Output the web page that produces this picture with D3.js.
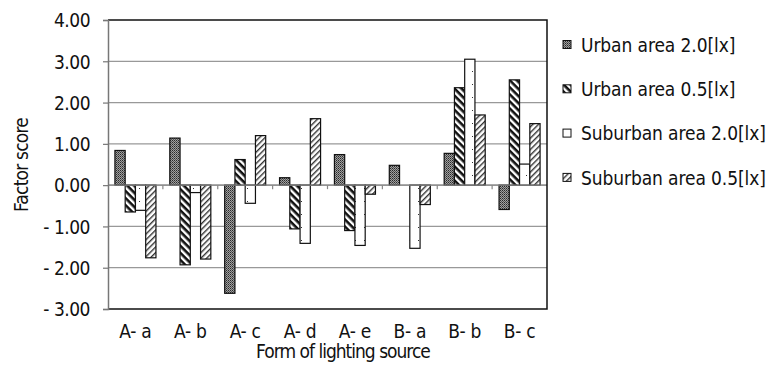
<!DOCTYPE html>
<html><head><meta charset="utf-8">
<script src="https://cdn.jsdelivr.net/npm/d3@7"></script>
<style>
html,body{margin:0;padding:0;background:#fff;}
svg text{font-family:"DejaVu Sans Condensed","Liberation Sans Narrow","DejaVu Sans",sans-serif;font-stretch:condensed;fill:#111;}
</style></head>
<body><svg id="c" width="768" height="381"></svg>
<script>
const categories = ["A- a","A- b","A- c","A- d","A- e","B- a","B- b","B- c"];
const seriesNames = ["Urban area 2.0[lx]","Urban area 0.5[lx]","Suburban area 2.0[lx]","Suburban area 0.5[lx]"];
const urban20 = [0.84, 1.14, -2.62, 0.18, 0.74, 0.48, 0.77, -0.59];
const urban05 = [-0.65, -1.93, 0.62, -1.06, -1.10, 0.00, 2.36, 2.55];
const suburban20 = [-0.61, -0.18, -0.44, -1.41, -1.46, -1.53, 3.05, 0.51];
const suburban05 = [-1.76, -1.79, 1.20, 1.61, -0.22, -0.47, 1.70, 1.49];
const yTicks = [-3,-2,-1,0,1,2,3,4];
const yTickLabels = ["- 3.00","- 2.00","- 1.00","0.00","1.00","2.00","3.00","4.00"];
const xTitle = "Form of lighting source";
const yTitle = "Factor score";

const series = [urban20, urban05, suburban20, suburban05];
const svg = d3.select("#c");
const L = 108, R = 547, T = 20, B = 309;
const FS = 19;

const defs = svg.append("defs");
// pattern 0: dark checker
const p0 = defs.append("pattern").attr("id","p0").attr("width",2).attr("height",2).attr("patternUnits","userSpaceOnUse");
p0.append("rect").attr("width",2).attr("height",2).attr("fill","#a0a0a0");
p0.append("rect").attr("width",1).attr("height",1).attr("fill","#2a2a2a");
p0.append("rect").attr("x",1).attr("y",1).attr("width",1).attr("height",1).attr("fill","#555");
// pattern 1: thick backslash stripes
const p1 = defs.append("pattern").attr("id","p1").attr("width",5).attr("height",5).attr("patternUnits","userSpaceOnUse").attr("patternTransform","rotate(45)");
p1.append("rect").attr("width",5).attr("height",5).attr("fill","#fff");
p1.append("rect").attr("width",5).attr("height",2.6).attr("fill","#111");
// pattern 2: white with sparse dots
const p2 = defs.append("pattern").attr("id","p2").attr("width",9).attr("height",13).attr("patternUnits","userSpaceOnUse");
p2.append("rect").attr("width",9).attr("height",13).attr("fill","#fff");
p2.append("rect").attr("x",4).attr("y",6).attr("width",1).attr("height",1).attr("fill","#333");
// pattern 3: thin forward slash stripes
const p3 = defs.append("pattern").attr("id","p3").attr("width",4).attr("height",4).attr("patternUnits","userSpaceOnUse").attr("patternTransform","rotate(-45)");
p3.append("rect").attr("width",4).attr("height",4).attr("fill","#fff");
p3.append("rect").attr("width",4).attr("height",1.4).attr("fill","#333");
const fills = ["url(#p0)","url(#p1)","url(#p2)","url(#p3)"];

const y = d3.scaleLinear().domain([-3,4]).range([B,T]);
const x = d3.scaleBand().domain(categories).range([L,R]).paddingInner(0).paddingOuter(0);
const gapRatio = 1.35;
const barW = x.bandwidth()/(4+gapRatio);
const x1 = d3.scaleBand().domain(d3.range(4)).range([barW*gapRatio/2, barW*gapRatio/2 + barW*4]);

// gridlines
svg.append("g").selectAll("line").data(yTicks.filter(t=>t!==4 && t!==-3)).join("line")
  .attr("x1",L).attr("x2",R).attr("y1",d=>y(d)).attr("y2",d=>y(d))
  .attr("stroke","#999").attr("stroke-width",1.3);

// bars
const g = svg.append("g");
series.forEach((vals,si)=>{
  g.append("g").selectAll("rect").data(vals).join("rect")
    .attr("x",(d,i)=>x(categories[i])+x1(si))
    .attr("width",x1.bandwidth())
    .attr("y",d=>y(Math.max(0,d)))
    .attr("height",d=>Math.abs(y(d)-y(0)))
    .attr("fill",fills[si])
    .attr("stroke","#111").attr("stroke-width",1.2)
    .attr("display",d=>d===0?"none":null);
});

// zero axis with category ticks
const zeroG = svg.append("g").attr("transform",`translate(0,${y(0)})`);
zeroG.append("line").attr("x1",L).attr("x2",R).attr("stroke","#888").attr("stroke-width",1.3);
zeroG.selectAll("line.t").data(categories.slice(1)).join("line").attr("class","t")
  .attr("x1",d=>x(d)).attr("x2",d=>x(d)).attr("y1",0).attr("y2",4).attr("stroke","#888").attr("stroke-width",1.2);

// frame: top, right, bottom black
svg.append("path").attr("d",`M${L},${T}H${R}V${B}H${L}`).attr("fill","none").attr("stroke","#111").attr("stroke-width",1.5);

// y axis
const yAxis = d3.axisLeft(y).tickValues(yTicks).tickSize(5).tickFormat(d=>yTickLabels[yTicks.indexOf(d)]);
const ya = svg.append("g").attr("transform",`translate(${L},0)`).call(yAxis);
ya.select(".domain").attr("stroke","#777").attr("stroke-width",1.5);
ya.selectAll(".tick line").attr("stroke","#777").attr("stroke-width",1.2);
ya.selectAll(".tick text").attr("x",-18).attr("font-size",FS).attr("letter-spacing","-0.5px").attr("dy","0.36em")
  .style("font-family",'"DejaVu Sans Condensed","Liberation Sans Narrow","DejaVu Sans",sans-serif').attr("fill","#111");

// x labels
svg.append("g").selectAll("text").data(categories).join("text")
  .attr("x",d=>x(d)+x.bandwidth()/2).attr("y",338)
  .attr("text-anchor","middle").attr("font-size",FS).attr("letter-spacing","-0.3px").text(d=>d);

// axis titles
svg.append("text").attr("x",343).attr("y",358).attr("text-anchor","middle").attr("font-size",FS).attr("letter-spacing","-1px").text(xTitle);
svg.append("text").attr("transform","translate(28,165) rotate(-90)").attr("text-anchor","middle").attr("font-size",FS).attr("letter-spacing","-0.8px").text(yTitle);

// legend
const lg = svg.append("g").selectAll("g").data(seriesNames).join("g")
  .attr("transform",(d,i)=>`translate(563,${45+i*44.3})`);
lg.append("rect").attr("x",0).attr("y",-4.5).attr("width",8).attr("height",8)
  .attr("fill",(d,i)=>fills[i]).attr("stroke","#111").attr("stroke-width",1);
lg.append("text").attr("x",18).attr("dy","0.36em").attr("font-size",FS).attr("letter-spacing","-0.1px").text(d=>d);
</script></body></html>
